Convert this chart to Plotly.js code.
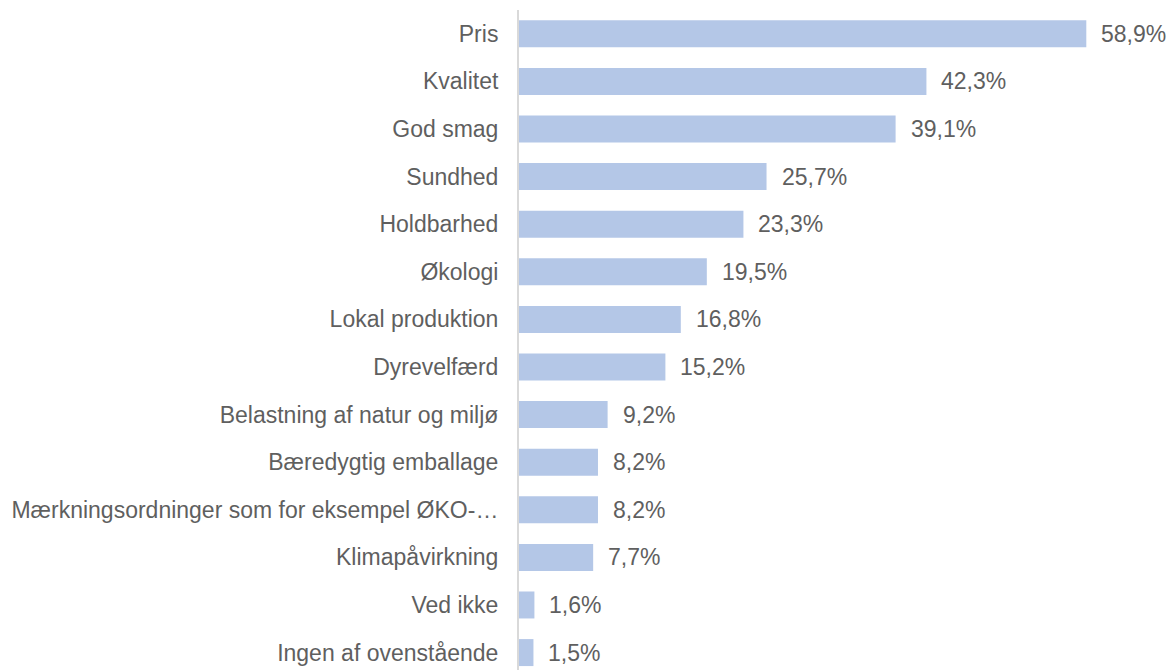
<!DOCTYPE html>
<html><head><meta charset="utf-8">
<script src="https://cdn.plot.ly/plotly-3.0.1.min.js"></script>
<style>html,body{margin:0;padding:0;background:#fff}#c{width:1173px;height:670px}</style>
</head><body><div id="c"></div>
<script>
const categories = ["Pris","Kvalitet","God smag","Sundhed","Holdbarhed","Økologi","Lokal produktion","Dyrevelfærd","Belastning af natur og miljø","Bæredygtig emballage","Mærkningsordninger som for eksempel ØKO-…","Klimapåvirkning","Ved ikke","Ingen af ovenstående"];
const values = [58.9,42.3,39.1,25.7,23.3,19.5,16.8,15.2,9.2,8.2,8.2,7.7,1.6,1.5];
const labels = values.map(v => v.toFixed(1).replace('.', ',') + '%');
const idx = categories.map((_, i) => i);

const trace = {
  type: 'bar', orientation: 'h',
  x: values, y: idx,
  width: 0.567,
  marker: {color: '#b4c7e7'},
  hoverinfo: 'skip'
};
const font = {family: '"Liberation Sans", Arial, sans-serif', size: 23, color: '#5f5f5f'};
const annotations = values.map((v, i) => ({
  x: v, y: i, xref: 'x', yref: 'y', text: labels[i], showarrow: false,
  xanchor: 'left', yanchor: 'middle', xshift: 13, font: font
}));
const layout = {
  width: 1173, height: 670,
  margin: {l: 519, r: 0, t: 10, b: 0},
  paper_bgcolor: '#fff', plot_bgcolor: '#fff',
  showlegend: false,
  font: font,
  xaxis: {range: [0, 67.9], showgrid: false, zeroline: false, showticklabels: false, showline: false, fixedrange: true},
  yaxis: {range: [13.366, -0.5], tickmode: 'array', tickvals: idx, ticktext: categories,
          showgrid: false, zeroline: false, showline: true, linecolor: '#d9d9d9', linewidth: 2,
          ticks: '', ticklabelstandoff: 14, tickfont: font, fixedrange: true},
  annotations: annotations
};
Plotly.newPlot('c', [trace], layout, {displayModeBar: false, staticPlot: true});
</script></body></html>
